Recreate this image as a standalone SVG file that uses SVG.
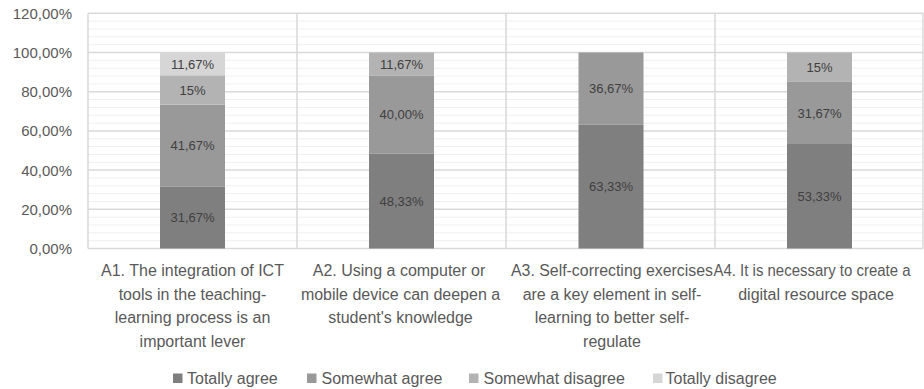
<svg xmlns="http://www.w3.org/2000/svg" width="924" height="389" viewBox="0 0 924 389">
<style>
text{font-family:"Liberation Sans",Arial,sans-serif;fill:#595959}
.ax{font-size:15px;text-anchor:end}
.cat{font-size:16px;text-anchor:middle}
.val{font-size:13px;text-anchor:middle;fill:#404040}
.leg{font-size:16px}
.minor{stroke:#efefef;stroke-width:1}
.major{stroke:#d9d9d9;stroke-width:1.5}
.ta{fill:#7f7f7f}.sa{fill:#999999}.sd{fill:#b3b3b3}.td{fill:#d6d6d6}
</style>
<rect width="924" height="389" fill="#ffffff"/>
<g id="grid">
<g class="minor">
<line x1="88" x2="923" y1="21.1" y2="21.1"/><line x1="88" x2="923" y1="29.0" y2="29.0"/><line x1="88" x2="923" y1="36.8" y2="36.8"/><line x1="88" x2="923" y1="44.7" y2="44.7"/>
<line x1="88" x2="923" y1="60.3" y2="60.3"/><line x1="88" x2="923" y1="68.2" y2="68.2"/><line x1="88" x2="923" y1="76.0" y2="76.0"/><line x1="88" x2="923" y1="83.9" y2="83.9"/>
<line x1="88" x2="923" y1="99.6" y2="99.6"/><line x1="88" x2="923" y1="107.4" y2="107.4"/><line x1="88" x2="923" y1="115.2" y2="115.2"/><line x1="88" x2="923" y1="123.1" y2="123.1"/>
<line x1="88" x2="923" y1="138.8" y2="138.8"/><line x1="88" x2="923" y1="146.6" y2="146.6"/><line x1="88" x2="923" y1="154.4" y2="154.4"/><line x1="88" x2="923" y1="162.3" y2="162.3"/>
<line x1="88" x2="923" y1="178.0" y2="178.0"/><line x1="88" x2="923" y1="185.8" y2="185.8"/><line x1="88" x2="923" y1="193.6" y2="193.6"/><line x1="88" x2="923" y1="201.5" y2="201.5"/>
<line x1="88" x2="923" y1="217.2" y2="217.2"/><line x1="88" x2="923" y1="225.0" y2="225.0"/><line x1="88" x2="923" y1="232.8" y2="232.8"/><line x1="88" x2="923" y1="240.7" y2="240.7"/>
</g>
<g class="major">
<line x1="88" x2="923" y1="13.3" y2="13.3"/><line x1="88" x2="923" y1="52.5" y2="52.5"/><line x1="88" x2="923" y1="91.7" y2="91.7"/><line x1="88" x2="923" y1="130.9" y2="130.9"/><line x1="88" x2="923" y1="170.1" y2="170.1"/><line x1="88" x2="923" y1="209.3" y2="209.3"/><line x1="88" x2="923" y1="248.5" y2="248.5"/>
<line x1="88" x2="88" y1="13.3" y2="248.5"/><line x1="297" x2="297" y1="13.3" y2="248.5"/><line x1="506" x2="506" y1="13.3" y2="248.5"/><line x1="715" x2="715" y1="13.3" y2="248.5"/><line x1="923" x2="923" y1="13.3" y2="248.5"/>
</g>
</g>
<g id="y-axis">
<text class="ax" x="72" y="19">120,00%</text>
<text class="ax" x="72" y="58">100,00%</text>
<text class="ax" x="72" y="97">80,00%</text>
<text class="ax" x="72" y="136">60,00%</text>
<text class="ax" x="72" y="176">40,00%</text>
<text class="ax" x="72" y="215">20,00%</text>
<text class="ax" x="72" y="254">0,00%</text>
</g>
<g id="bar-A1">
<rect class="ta" x="160" y="186.4" width="65" height="62.1"/>
<rect class="sa" x="160" y="104.7" width="65" height="81.7"/>
<rect class="sd" x="160" y="75.3" width="65" height="29.4"/>
<rect class="td" x="160" y="52.5" width="65" height="22.8"/>
<text class="val" x="192.5" y="222">31,67%</text>
<text class="val" x="192.5" y="150">41,67%</text>
<text class="val" x="192.5" y="95">15%</text>
<text class="val" x="192.5" y="69">11,67%</text>
</g>
<g id="bar-A2">
<rect class="ta" x="369" y="153.8" width="65" height="94.7"/>
<rect class="sa" x="369" y="75.4" width="65" height="78.4"/>
<rect class="sd" x="369" y="52.5" width="65" height="22.9"/>
<text class="val" x="401.5" y="206">48,33%</text>
<text class="val" x="401.5" y="119">40,00%</text>
<text class="val" x="401.5" y="69">11,67%</text>
</g>
<g id="bar-A3">
<rect class="ta" x="578.5" y="124.4" width="65" height="124.1"/>
<rect class="sa" x="578.5" y="52.5" width="65" height="71.9"/>
<text class="val" x="611" y="191">63,33%</text>
<text class="val" x="611" y="93">36,67%</text>
</g>
<g id="bar-A4">
<rect class="ta" x="787" y="144" width="65" height="104.5"/>
<rect class="sa" x="787" y="81.9" width="65" height="62.1"/>
<rect class="sd" x="787" y="52.5" width="65" height="29.4"/>
<text class="val" x="819.5" y="201">53,33%</text>
<text class="val" x="819.5" y="118">31,67%</text>
<text class="val" x="819.5" y="72">15%</text>
</g>
<g id="labels">
<text class="cat" x="192.5" y="276">A1. The integration of ICT</text>
<text class="cat" x="192.5" y="299.5">tools in the teaching-</text>
<text class="cat" x="192.5" y="323">learning process is an</text>
<text class="cat" x="192.5" y="346.5">important lever</text>
<text class="cat" x="399" y="276">A2. Using a computer or</text>
<text class="cat" x="400.5" y="299.5">mobile device can deepen a</text>
<text class="cat" x="400.5" y="323">student's knowledge</text>
<text class="cat" x="612" y="276" textLength="202" lengthAdjust="spacingAndGlyphs">A3. Self-correcting exercises</text>
<text class="cat" x="612" y="299.5">are a key element in self-</text>
<text class="cat" x="612" y="323">learning to better self-</text>
<text class="cat" x="612" y="346.5">regulate</text>
<text class="cat" x="812" y="276" textLength="197" lengthAdjust="spacingAndGlyphs">A4. It is necessary to create a</text>
<text class="cat" x="816" y="299.5">digital resource space</text>
</g>
<g id="legend">
<rect class="ta" x="173" y="373.5" width="9.5" height="9.5"/>
<text class="leg" x="187" y="383.5">Totally agree</text>
<rect class="sa" x="307" y="373.5" width="9.5" height="9.5"/>
<text class="leg" x="321.5" y="383.5">Somewhat agree</text>
<rect class="sd" x="469" y="373.5" width="9.5" height="9.5"/>
<text class="leg" x="483.5" y="383.5">Somewhat disagree</text>
<rect class="td" x="653" y="373.5" width="9.5" height="9.5"/>
<text class="leg" x="665.5" y="383.5">Totally disagree</text>
</g>
</svg>
